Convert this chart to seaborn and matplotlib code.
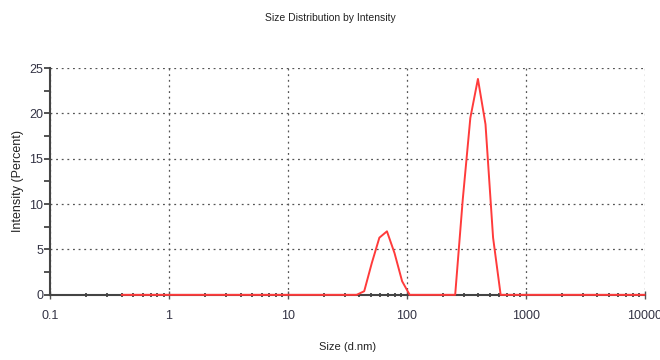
import matplotlib
matplotlib.use("Agg")
import matplotlib.pyplot as plt
import matplotlib.ticker as mticker
import seaborn as sns
import pandas as pd

# size bins (d.nm) and intensity (%)
size_nm = [0.4, 37.84, 43.82, 50.75, 58.77, 68.06, 78.82, 91.28, 105.7,
           220.2, 255.0, 295.3, 342.0, 396.1, 458.7, 531.2, 615.1, 10000]
intensity = [0, 0, 0.4, 3.5, 6.3, 7.0, 4.6, 1.5, 0,
             0, 0, 10.5, 19.5, 23.8, 18.8, 6.3, 0, 0]

x_ticks = [0.1, 1, 10, 100, 1000, 10000]
x_labels = ["0.1", "1", "10", "100", "1000", "10000"]
y_ticks = [0, 5, 10, 15, 20, 25]

df = pd.DataFrame({"size": size_nm, "intensity": intensity})

sns.set_style("white")
plt.rcParams["font.family"] = ["Liberation Sans Narrow", "Liberation Sans", "DejaVu Sans"]

fig = plt.figure(figsize=(6.6, 3.6), dpi=100)
ax = fig.add_axes([0.0758, 0.181, 0.901, 0.630])

sns.lineplot(data=df, x="size", y="intensity", color="#ff3b3b", linewidth=1.4,
             ax=ax, zorder=4, clip_on=False)

ax.set_xscale("log")
ax.set_xlim(0.1, 10000)
ax.set_ylim(0, 25)
ax.set_xticks(x_ticks)
ax.set_xticklabels(x_labels)
ax.set_yticks(y_ticks)
ax.xaxis.set_minor_locator(mticker.LogLocator(base=10, subs=range(2, 10), numticks=20))
ax.xaxis.set_minor_formatter(mticker.NullFormatter())
ax.yaxis.set_minor_locator(mticker.MultipleLocator(2.5))

ax.grid(True, which="major", linestyle=(0, (1.5, 3)), color="#555555", linewidth=0.9)
for s in ["top", "right"]:
    ax.spines[s].set_visible(False)
ax.spines["left"].set_color("#444444")
ax.spines["bottom"].set_color("#444444")
ax.spines["left"].set_linewidth(1.5)
ax.spines["bottom"].set_linewidth(1.5)

ax.tick_params(axis="x", which="major", bottom=True, direction="inout", length=6, width=1.0,
               color="#555555", labelsize=9, labelcolor="#333344", pad=8)
ax.tick_params(axis="x", which="minor", bottom=True, direction="inout", length=3, width=1.3,
               color="#444444")
ax.tick_params(axis="y", which="both", left=True, direction="out", length=4, width=1.3,
               color="#444444", labelsize=9, labelcolor="#333344", pad=1)

ax.set_xlabel("Size (d.nm)", fontsize=8, color="#222222", labelpad=14)
ax.set_ylabel("Intensity (Percent)", fontsize=9, color="#222222", labelpad=4)
fig.text(0.5, 0.95, "Size Distribution by Intensity", ha="center", va="center",
         fontsize=7.5, color="#222222")

fig.savefig("out.png", dpi=100)
